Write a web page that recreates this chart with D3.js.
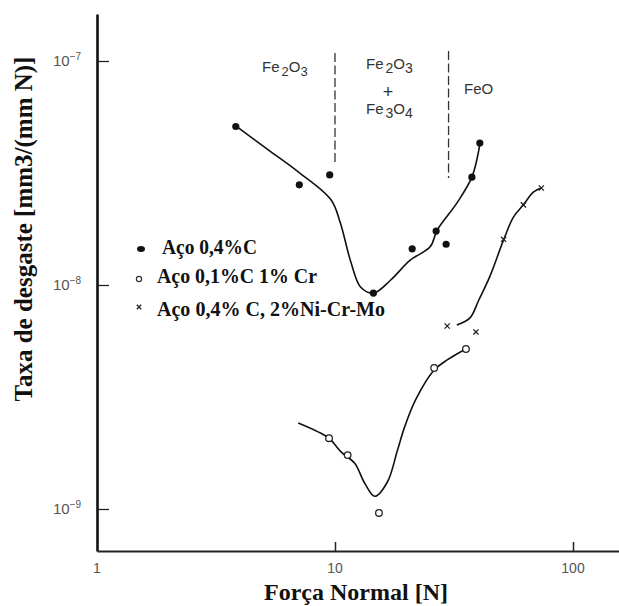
<!DOCTYPE html>
<html>
<head>
<meta charset="utf-8">
<script src="https://cdn.jsdelivr.net/npm/d3@7"></script>
<style>
  html, body { margin: 0; padding: 0; background: #fff; }
  svg { display: block; }
</style>
</head>
<body>
<svg id="chart" width="619" height="606"></svg>
<script>
// Measured points: Aço 0,4%C (filled dots)
const forca04C = [3.83, 7.08, 9.5, 14.5, 21.1, 26.6, 29.3, 37.6, 40.6];
const taxa04C  = [5.1e-8, 2.8e-8, 3.1e-8, 9.2e-9, 1.45e-8, 1.74e-8, 1.52e-8, 3.03e-8, 4.3e-8];
// Trend line through Aço 0,4%C
const tendForca04C = [3.83, 5.26, 7.03, 9.62, 10.5, 11.7, 12.8, 14.5, 17.1, 20.7, 25.1, 26.9, 32.5, 37.6, 40.2, 40.6];
const tendTaxa04C  = [5.13e-8, 4.0e-8, 3.19e-8, 2.4e-8, 1.91e-8, 1.25e-8, 9.8e-9, 9.2e-9, 1.05e-8, 1.29e-8, 1.48e-8, 1.76e-8, 2.32e-8, 3.03e-8, 4.0e-8, 4.3e-8];

// Measured points: Aço 0,1%C 1% Cr (open circles)
const forca01C = [9.44, 11.3, 15.3, 26.1, 35.5];
const taxa01C  = [2.07e-9, 1.74e-9, 9.6e-10, 4.26e-9, 5.18e-9];
const tendForca01C = [7.01, 8.49, 9.44, 10.6, 12.1, 13.3, 14.7, 16.6, 18.3, 19.6, 21.8, 26.1, 29.6, 34.8];
const tendTaxa01C  = [2.42e-9, 2.21e-9, 2.07e-9, 1.80e-9, 1.60e-9, 1.31e-9, 1.14e-9, 1.32e-9, 1.83e-9, 2.32e-9, 3.07e-9, 4.17e-9, 4.63e-9, 5.13e-9];

// Measured points: Aço 0,4% C, 2%Ni-Cr-Mo (crosses)
const forcaNiCrMo = [29.6, 39.1, 51.1, 61.9, 73.6];
const taxaNiCrMo  = [6.56e-9, 6.17e-9, 1.60e-8, 2.28e-8, 2.71e-8];
const tendForcaNiCrMo = [32.5, 36.9, 40.2, 44.7, 51.1, 56.2, 61.9, 68.1, 73.6];
const tendTaxaNiCrMo  = [6.63e-9, 7.13e-9, 8.57e-9, 1.09e-8, 1.59e-8, 2.01e-8, 2.28e-8, 2.60e-8, 2.71e-8];

// Axis ticks
const xTicks = [1, 10, 100];
const xTickLabels = ["1", "10", "100"];
const yTicks = [1e-7, 1e-8, 1e-9];
const yTickExp = ["-7", "-8", "-9"];

// Oxide regime boundaries (N)
const fronteiras = [10, 30];

const legendLabels = ["Aço 0,4%C", "Aço 0,1%C 1% Cr", "Aço 0,4% C, 2%Ni-Cr-Mo"];

const svg = d3.select("#chart");

// Log scales anchored on decades, then stretched to the full axis length
const x = d3.scaleLog().domain([1, 100]).range([97, 573]);
x.domain([1, x.invert(619)]).range([97, 619]);
const y = d3.scaleLog().domain([1e-7, 1e-9]).range([61, 509]);
y.domain([y.invert(14), y.invert(551)]).range([14, 551]);

const serif = "'Liberation Serif', 'Times New Roman', serif";
const sans = "'Liberation Sans', Arial, sans-serif";

// Axes
const gy = svg.append("g").attr("transform", "translate(97,0)")
  .call(d3.axisLeft(y).tickValues(yTicks).tickSize(-12).tickSizeOuter(0).tickFormat(""));
gy.select(".domain").attr("stroke", "#111").attr("stroke-width", 2.6);
gy.selectAll(".tick line").attr("stroke", "#222").attr("stroke-width", 1.3);

const gx = svg.append("g").attr("transform", "translate(0,551)")
  .call(d3.axisBottom(x).tickValues(xTicks.slice(1)).tickSize(-9).tickSizeOuter(0).tickFormat(""));
gx.select(".domain").attr("stroke", "#222").attr("stroke-width", 2);
gx.selectAll(".tick line").attr("stroke", "#222").attr("stroke-width", 1.5);

// Tick labels
yTicks.forEach((v, i) => {
  const t = svg.append("text")
    .attr("x", 53).attr("y", y(v) + 5)
    .attr("font-family", sans).attr("font-size", 15).attr("fill", "#555");
  t.append("tspan").text("10");
  t.append("tspan").attr("dy", -6).attr("font-size", 10).text(yTickExp[i].replace("-", "\u2212"));
});
xTicks.forEach((v, i) => {
  svg.append("text")
    .attr("x", x(v)).attr("y", 573)
    .attr("text-anchor", "middle")
    .attr("font-family", sans).attr("font-size", 14).attr("fill", "#555")
    .text(xTickLabels[i]);
});

// Axis titles
svg.append("text")
  .attr("transform", "translate(32,229) rotate(-90)")
  .attr("text-anchor", "middle")
  .attr("font-family", serif).attr("font-weight", "bold").attr("font-size", 25)
  .attr("fill", "#111")
  .text("Taxa de desgaste [mm3/(mm N)]");
svg.append("text")
  .attr("x", 356).attr("y", 600)
  .attr("text-anchor", "middle")
  .attr("font-family", serif).attr("font-weight", "bold").attr("font-size", 24)
  .attr("fill", "#111")
  .text("Força Normal [N]");

// Regime boundaries
const fronteiraTopo = [53, 51];
const fronteiraBase = [162, 178];
fronteiras.forEach((f, i) => {
  svg.append("line")
    .attr("x1", x(f)).attr("x2", x(f))
    .attr("y1", fronteiraTopo[i]).attr("y2", fronteiraBase[i])
    .attr("stroke", "#333").attr("stroke-width", 1.3)
    .attr("stroke-dasharray", "9,3.5");
});

// Oxide labels with subscripts
function oxide(xp, yp, parts) {
  const t = svg.append("text").attr("x", xp).attr("y", yp)
    .attr("font-family", sans).attr("font-size", 15).attr("fill", "#333");
  parts.forEach(p => {
    const s = t.append("tspan").text(p[0]);
    if (p[1]) s.attr("dy", p[1]);
    if (p[2]) s.attr("font-size", p[2]);
    if (p[3]) s.attr("dx", p[3]);
  });
  return t;
}
oxide(262, 72, [["Fe"], ["2", 4, 13, 2], ["O", -4], ["3", 4, 13]]);
oxide(366, 69, [["Fe"], ["2", 4, 14, 2], ["O", -4], ["3", 4, 14]]);
svg.append("text").attr("x", 388).attr("y", 98).attr("text-anchor", "middle")
  .attr("font-family", sans).attr("font-size", 18).attr("fill", "#333").text("+");
oxide(366, 114, [["Fe"], ["3", 4, 14, 2], ["O", -4], ["4", 4, 14]]);
svg.append("text").attr("x", 464).attr("y", 94)
  .attr("font-family", sans).attr("font-size", 15).attr("fill", "#333").text("FeO");

// Trend lines
const line = d3.line().x(d => x(d[0])).y(d => y(d[1])).curve(d3.curveCatmullRom.alpha(0.5));
const tendencias = [
  d3.zip(tendForca04C, tendTaxa04C),
  d3.zip(tendForca01C, tendTaxa01C),
  d3.zip(tendForcaNiCrMo, tendTaxaNiCrMo)
];
tendencias.forEach(pts => {
  svg.append("path").datum(pts).attr("d", line)
    .attr("fill", "none").attr("stroke", "#111").attr("stroke-width", 1.6);
});

// Markers
svg.append("g").selectAll("circle").data(d3.zip(forca04C, taxa04C)).join("circle")
  .attr("cx", d => x(d[0])).attr("cy", d => y(d[1])).attr("r", 3.6).attr("fill", "#111");
svg.append("g").selectAll("circle").data(d3.zip(forca01C, taxa01C)).join("circle")
  .attr("cx", d => x(d[0])).attr("cy", d => y(d[1])).attr("r", 3.3)
  .attr("fill", "#fff").attr("stroke", "#222").attr("stroke-width", 1.3);
const cross = (g, cx, cy, s) => {
  g.append("path").attr("d", `M${cx - s},${cy - s}L${cx + s},${cy + s}M${cx - s},${cy + s}L${cx + s},${cy - s}`)
    .attr("stroke", "#222").attr("stroke-width", 1.3).attr("fill", "none");
};
const gCross = svg.append("g");
d3.zip(forcaNiCrMo, taxaNiCrMo).forEach(d => cross(gCross, x(d[0]), y(d[1]), 2.6));

// Legend
const leg = svg.append("g");
leg.append("ellipse").attr("cx", 141).attr("cy", 249).attr("rx", 4).attr("ry", 3).attr("fill", "#111");
leg.append("circle").attr("cx", 139).attr("cy", 279).attr("r", 2.6)
  .attr("fill", "#fff").attr("stroke", "#333").attr("stroke-width", 1.2);
cross(leg, 139, 307, 2.2);
const legX = [162, 157, 157];
const legY = [254, 283, 316];
const legW = [95, 160, 228];
legendLabels.forEach((s, i) => {
  leg.append("text").attr("x", legX[i]).attr("y", legY[i])
    .attr("font-family", serif).attr("font-weight", "bold").attr("font-size", 20)
    .attr("fill", "#111")
    .attr("textLength", legW[i]).attr("lengthAdjust", "spacingAndGlyphs")
    .text(s);
});
</script>
</body>
</html>
